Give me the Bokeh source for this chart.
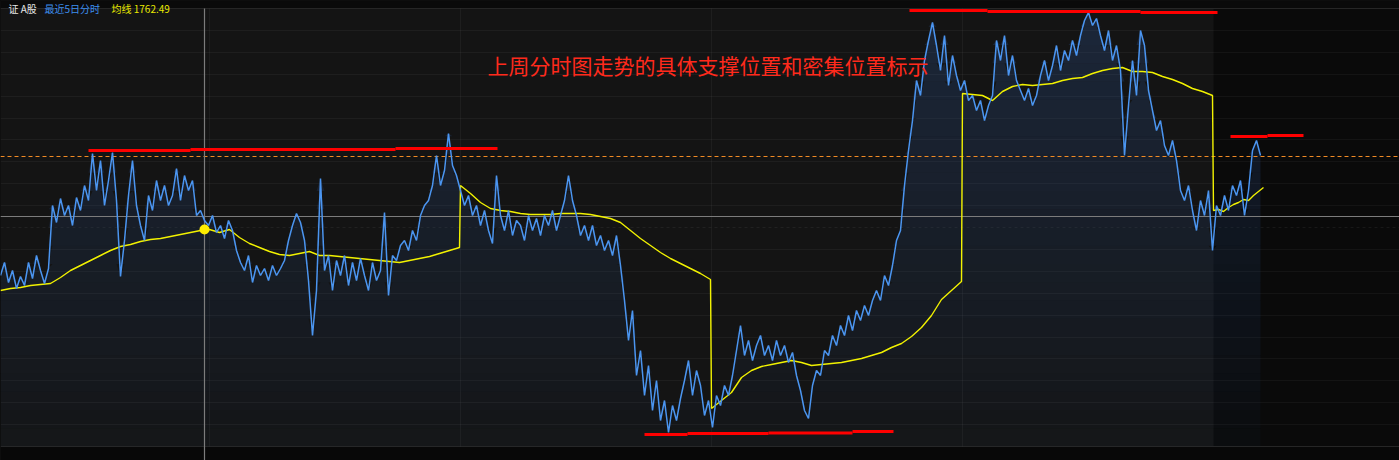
import numpy as np
from bokeh.plotting import figure
from bokeh.models import Range1d
from bokeh.core.properties import value
from bokeh.embed import file_html
from bokeh.resources import INLINE

# ---------------- data (time index in minutes, level in points) ----------------
PRICE_STEP = 4
price = [
    171, 184, 164, 176, 158, 170, 161, 184, 168, 191,
    176, 163, 178, 241, 224, 248, 231, 241, 221, 249,
    236, 261, 246, 293, 256, 286, 241, 266, 294, 246,
    170, 206, 251, 286, 241, 221, 206, 251, 236, 266,
    246, 261, 241, 251, 278, 246, 271, 256, 266, 231,
    236, 226, 221, 231, 214, 221, 208, 226, 216, 196,
    184, 176, 191, 164, 181, 171, 178, 166, 181, 171,
    178, 186, 206, 221, 233, 224, 206, 166, 111, 156,
    268, 176, 191, 156, 186, 171, 191, 161, 184, 166,
    188, 171, 156, 184, 166, 176, 234, 151, 191, 186,
    201, 206, 196, 216, 206, 231, 241, 246, 261, 291,
    261, 276, 313, 281, 271, 256, 241, 251, 231, 241,
    221, 236, 216, 203, 271, 231, 216, 236, 211, 226,
    221, 206, 231, 216, 228, 211, 231, 221, 236, 216,
    231, 246, 271, 246, 231, 211, 221, 206, 221, 201,
    211, 196, 206, 191, 211, 181, 146, 106, 136, 71,
    96, 51, 81, 36, 66, 26, 46, 14, 41, 26,
    48, 66, 86, 51, 76, 61, 31, 46, 19, 51,
    41, 61, 51, 71, 96, 121, 91, 106, 86, 101,
    111, 91, 101, 86, 106, 91, 101, 84, 94, 71,
    56, 36, 28, 61, 76, 71, 96, 91, 111, 101,
    121, 111, 131, 116, 136, 126, 141, 131, 146, 156,
    146, 171, 161, 181, 206, 216, 261, 296, 326, 366,
    351, 386, 406, 424, 401, 376, 411, 361, 391, 371,
    356, 366, 346, 351, 336, 346, 326, 341, 351, 406,
    386, 411, 371, 391, 366, 356, 346, 358, 341, 351,
    371, 386, 366, 381, 401, 376, 396, 386, 406, 391,
    411, 426, 434, 421, 428, 411, 396, 416, 386, 401,
    376, 291, 341, 386, 351, 416, 401, 356, 336, 316,
    326, 301, 291, 306, 286, 256, 246, 261, 236, 216,
    246, 231, 256, 196, 241, 231, 251, 236, 261, 251,
    266, 231, 256, 296, 306, 291,
]

# session starts (minute index) and the intraday average price of each session
day_starts = [0, 209, 460, 711, 962, 1213]
avg_steps = [10, 10, 10, 10, 10, 5]
avg_days = [
    [156, 158, 159, 161, 162, 163, 169, 176, 181, 186, 191, 196, 200, 202, 205, 207, 208, 210, 212, 214, 216],
    [217, 214, 217, 209, 203, 199, 195, 192, 191, 193, 195, 191, 191, 190, 189, 188, 187, 186, 185, 184,
     186, 188, 190, 193, 196, 199],
    [261, 253, 244, 238, 236, 235, 233, 232, 232, 232, 233, 233, 233, 232, 230, 228, 224, 216, 208, 201,
     194, 188, 183, 178, 173, 167],
    [38, 46, 54, 69, 76, 80, 82, 84, 86, 84, 81, 82, 83, 84, 86, 88, 91, 94, 99, 103,
     110, 119, 131, 147, 156, 165],
    [353, 352, 351, 346, 355, 360, 362, 361, 362, 363, 366, 368, 369, 373, 376, 378, 379, 375, 375, 374,
     370, 367, 363, 358, 355, 351],
    [236, 237, 235, 239, 242, 244, 247, 246, 251, 255, 259],
]

# hand-drawn support / resistance marks: (start, end, level)
marks = [
    (88, 190, 296), (190, 395, 297), (395, 497, 298),
    (909, 987, 436), (987, 1140, 435), (1140, 1217, 434),
    (644, 687, 12), (687, 768, 13), (768, 852, 13.5), (852, 893, 15),
    (1230, 1267, 310), (1267, 1303, 311),
]
prev_close = 290
cross_t, cross_level = 204, 230
dot_t, dot_level = 204, 217
note = "上周分时图走势的具体支撑位置和密集位置标示"
header_texts = ["证 A股", "最近5日分时", "均线 1762.49"]
header_colors = ["#e6e6e6", "#3d8fef", "#e8e800"]
header_x = [8, 44, 111]

# ---------------- figure ----------------
W, H = 1399, 460
TOP, BOT = 438, 0
p = figure(width=W, height=H, x_range=Range1d(0, 1399), y_range=Range1d(-14, 446),
           output_backend="svg", toolbar_location=None, min_border=0,
           x_axis_type=None, y_axis_type=None,
           background_fill_color="#141414", border_fill_color="#0a0a0a",
           outline_line_color=None)
p.grid.visible = False

# darker regions: header strip, footer strip, area right of the current session
p.quad(left=[0, 0, 1213], right=[1399, 1399, 1399], bottom=[TOP, -14, BOT], top=[446, BOT, TOP],
       fill_color=["#0a0a0a", "#080808", "#0a0a0a"], line_color=None)

# grid
levels = [TOP - 21.9 * k for k in range(1, 20) if k != 10]
p.hspan(y=levels, line_color="white", line_alpha=0.045, line_width=1)
p.hspan(y=[TOP - 21.9 * 10], line_color="white", line_alpha=0.06, line_width=1, line_dash="3 3")
p.hspan(y=[TOP, BOT], line_color="#262626", line_width=1)
sep = day_starts[1:5]
p.segment(x0=sep, y0=[BOT] * len(sep), x1=sep, y1=[TOP] * len(sep),
          line_color="white", line_alpha=0.045, line_width=1)

t = np.arange(len(price)) * PRICE_STEP
pr = np.array(price, dtype=float)

# gradient fill under the price line
bands = np.linspace(BOT, TOP, 25)
for k in range(len(bands) - 1):
    lo, hi = bands[k], bands[k + 1]
    a = 0.03 + 0.27 * (hi / TOP)
    p.varea(x=t, y1=np.full_like(pr, lo), y2=np.clip(pr, lo, hi),
            fill_color="#2d5290", fill_alpha=a)

# previous close (orange dashed)
p.hspan(y=[prev_close], line_color="#f08a24", line_width=1, line_dash="4 3")

# crosshair
p.hspan(y=[cross_level], line_color="#7c7c7c", line_width=1.2)
p.segment(x0=[cross_t], y0=[-14], x1=[cross_t], y1=[TOP], line_color="#7c7c7c", line_width=1.2)

# average line (resets every session -> vertical jumps)
avg_t, avg_v = [], []
for s, st, vals in zip(day_starts, avg_steps, avg_days):
    avg_t += list(s + st * np.arange(len(vals)))
    avg_v += vals
p.line(avg_t, avg_v, line_color="#f2f200", line_width=1.4)

# price line
p.line(t, pr, line_color="#4b95f0", line_width=1.5)

# average dot at crosshair
p.scatter([dot_t], [dot_level], size=10, fill_color="#ffee00", line_color=None)

# red marks
p.segment(x0=[m[0] for m in marks], y0=[m[2] for m in marks],
          x1=[m[1] for m in marks], y1=[m[2] for m in marks],
          line_color="#ff0000", line_width=3.2)

# annotation text
p.text(x=[487], y=[382], text=[note], text_color="#ff2a1c", text_font=value("Noto Sans CJK SC"),
       text_font_size="21px", text_baseline="middle", text_align="left")

# header strip (small, fully inside the page)
p.text(x=header_x, y=[445.5] * 3, text=header_texts, text_color=header_colors,
       text_font=value("Noto Sans CJK SC"), text_font_size="10px",
       text_baseline="top", text_align="left")

html = file_html(p, INLINE, title="分时图")
html = html.replace("</head>", "<style>html,body{margin:0;padding:0;background:#0a0a0a;}</style></head>")
open("out.html", "w").write(html)
